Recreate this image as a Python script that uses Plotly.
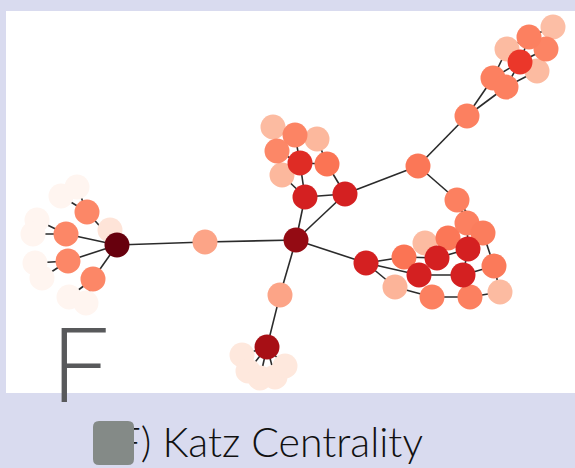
import plotly.graph_objects as go
import plotly.express as px

# ---- data: node layout positions (layout units) and Katz centrality ----
node_x = [117, 110, 87, 66, 68, 93, 77, 61, 37, 33, 35, 42, 69, 86,
          205, 296, 305, 345, 300, 327, 282, 277, 295, 273, 317,
          418, 467, 457,
          493, 506, 520, 507, 529, 546, 553, 537,
          467, 483, 448, 425, 468, 437, 404, 366, 419, 463, 494, 395, 432, 470, 500,
          280, 267, 242, 248, 260, 275, 285]
node_y = [245, 230, 212, 234, 261, 279, 187, 196, 220, 234, 263, 278, 297, 303,
          242, 240, 197, 194, 163, 164, 175, 151, 135, 127, 139,
          166, 116, 200,
          78, 87, 62, 49, 37, 49, 27, 71,
          223, 233, 238, 243, 249, 258, 257, 263, 275, 275, 266, 287, 297, 297, 292,
          295, 347, 355, 371, 378, 377, 366]
katz = [1.0, 0.1, 0.41, 0.41, 0.41, 0.41, 0.0, 0.0, 0.0, 0.0, 0.0, 0.0, 0.0, 0.0,
        0.32, 0.91, 0.72, 0.72, 0.68, 0.47, 0.26, 0.41, 0.42, 0.25, 0.26,
        0.46, 0.43, 0.43,
        0.43, 0.43, 0.64, 0.25, 0.43, 0.42, 0.24, 0.25,
        0.43, 0.44, 0.46, 0.25, 0.72, 0.72, 0.47, 0.72, 0.72, 0.72, 0.45, 0.27, 0.43, 0.43, 0.25,
        0.32, 0.87, 0.08, 0.08, 0.08, 0.08, 0.08]
edges = [(0, 1), (0, 2), (0, 3), (0, 4), (0, 5), (2, 6), (2, 7), (3, 8), (3, 9),
         (4, 10), (4, 11), (5, 12), (5, 13), (0, 14), (14, 15),
         (15, 16), (15, 17), (16, 17), (16, 18), (16, 20), (17, 19), (18, 19),
         (18, 21), (18, 22), (19, 24), (21, 23), (22, 23),
         (17, 25), (25, 26), (25, 27), (26, 28), (26, 29), (28, 30), (29, 35),
         (28, 31), (30, 32), (30, 33), (29, 30), (31, 32), (33, 34), (32, 34),
         (27, 36), (27, 37), (36, 40), (15, 43), (43, 42), (43, 44), (43, 47),
         (42, 41), (41, 40), (44, 45), (47, 48), (48, 49), (49, 50), (45, 46),
         (37, 46), (46, 50), (40, 45), (38, 41), (39, 41),
         (15, 51), (51, 52), (52, 53), (52, 54), (52, 55), (52, 56), (52, 57)]

caption = "(F) Katz Centrality"
panel_letter = "F"

lavender = "#d9dbef"

ex, ey = [], []
for a, b in edges:
    ex += [node_x[a], node_x[b], None]
    ey += [node_y[a], node_y[b], None]

order = sorted(range(len(katz)), key=lambda i: katz[i])

fig = go.Figure()
fig.add_trace(go.Scatter(x=ex, y=ey, mode="lines",
                         line=dict(color="#2b2b2b", width=1.6),
                         hoverinfo="skip", showlegend=False))
fig.add_trace(go.Scatter(x=[node_x[i] for i in order], y=[node_y[i] for i in order],
                         mode="markers",
                         marker=dict(size=25, color=[katz[i] for i in order],
                                     colorscale=px.colors.sequential.Reds,
                                     cmin=0, cmax=1, line=dict(width=0), opacity=1),
                         showlegend=False))
# big panel letter
fig.add_trace(go.Scatter(x=[80], y=[376], mode="text", text=[panel_letter],
                         textfont=dict(family="Lato", size=104, color="#58595b", weight=300),
                         textposition="middle center", showlegend=False, hoverinfo="skip"))
# caption
fig.add_trace(go.Scatter(x=[265], y=[447], mode="text", text=[caption],
                         textfont=dict(family="Lato", size=41, color="#111111", weight=300),
                         textposition="middle center", showlegend=False, hoverinfo="skip"))

# rounded gray box covering start of caption
x0, y0, x1, y1, r = 93, 421, 134, 465, 6
path = (f"M{x0+r},{y0} L{x1-r},{y0} Q{x1},{y0} {x1},{y0+r} L{x1},{y1-r} Q{x1},{y1} {x1-r},{y1} "
        f"L{x0+r},{y1} Q{x0},{y1} {x0},{y1-r} L{x0},{y0+r} Q{x0},{y0} {x0+r},{y0} Z")

fig.update_layout(
    width=575, height=468,
    margin=dict(l=0, r=0, t=0, b=0),
    paper_bgcolor=lavender, plot_bgcolor=lavender,
    hovermode=False,
    xaxis=dict(range=[0, 575], visible=False, fixedrange=True),
    yaxis=dict(range=[468, 0], visible=False, fixedrange=True),
    shapes=[
        dict(type="rect", xref="x", yref="y", x0=6, x1=576, y0=11, y1=393,
             fillcolor="white", line=dict(width=0), layer="below"),
        dict(type="path", xref="x", yref="y", path=path, fillcolor="#848a87",
             line=dict(width=0), layer="above"),
    ],
)

fig.write_html("out.html", config={"displayModeBar": False},
               post_script="document.body.style.margin='0';document.body.style.overflow='hidden';")
